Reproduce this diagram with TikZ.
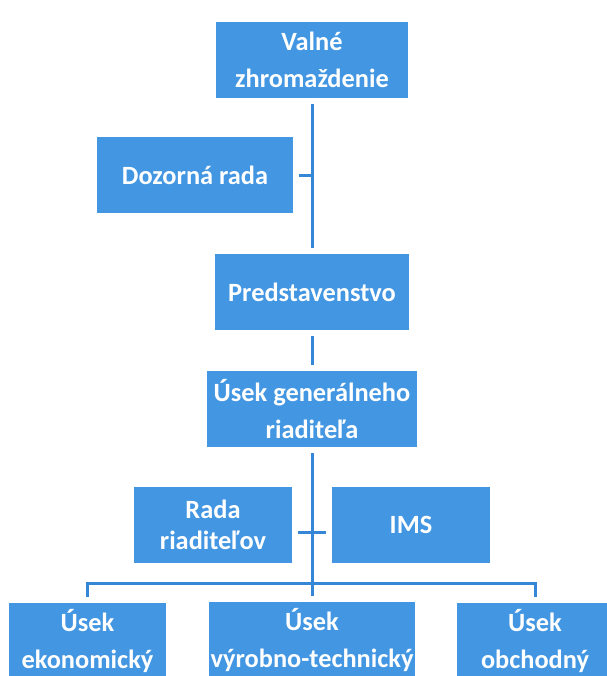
\documentclass[tikz,border=0pt]{standalone}
\usepackage{fontspec}
\setmainfont{Carlito}
\usetikzlibrary{calc}
\definecolor{boxblue}{RGB}{66,150,226}
\definecolor{lineblue}{RGB}{54,134,216}
\tikzset{
	unit/.style={fill=boxblue, text=white, font=\bfseries\fontsize{15}{21}\selectfont,
		align=center, inner sep=0pt, minimum height=15.2mm},
	link/.style={draw=lineblue, line width=0.6mm, shorten <=1.2mm, shorten >=1.2mm},
}

\begin{document}
\begin{tikzpicture}[x=0.2mm, y=-0.2mm]
		%%%%% START %%%%%
		
		\useasboundingbox (0, 0) rectangle (607, 676);
		
		\node[unit, minimum width=38.4mm] (valne) at (312, 59.5) {Valné\\zhromaždenie};
		\node[unit, minimum width=39.2mm] (dozor) at (195, 175) {Dozorná rada};
		\node[unit, minimum width=38.8mm] (pred) at (312, 292) {Predstavenstvo};
		\node[unit, minimum width=41.8mm] (gen) at (312, 409) {Úsek generálneho\\riaditeľa};
		
		\node[unit, minimum width=31.6mm, font=\bfseries\fontsize{15}{18}\selectfont] (rada) at (213, 525) {Rada\\riaditeľov};
		\node[unit, minimum width=31.6mm] (ims) at (411, 525) {IMS};
		
		\node[unit, minimum width=31.4mm] (ekon) at (87.5, 641) {Úsek\\ekonomický};
		\node[unit, minimum width=41.2mm] (vyrob) at (312, 640) {Úsek\\výrobno-technický};
		\node[unit, minimum width=31.2mm] (obch) at (535, 641) {Úsek\\obchodný};
		
		\draw[link] (valne) -- (pred);
		\draw[link, shorten >=0pt] (dozor) -- (dozor -| valne);
		\draw[link] (pred) -- (gen);
		\draw[link] (gen) -- (vyrob);
		\draw[link] ([yshift=-1.4mm]rada.east) -- ([yshift=-1.4mm]ims.west);
		
		\coordinate (bus) at (312, 583);
		\draw[link] (ekon) |- (bus) -| (obch);
		
		%%%%% END %%%%%
	\end{tikzpicture}
\end{document}
